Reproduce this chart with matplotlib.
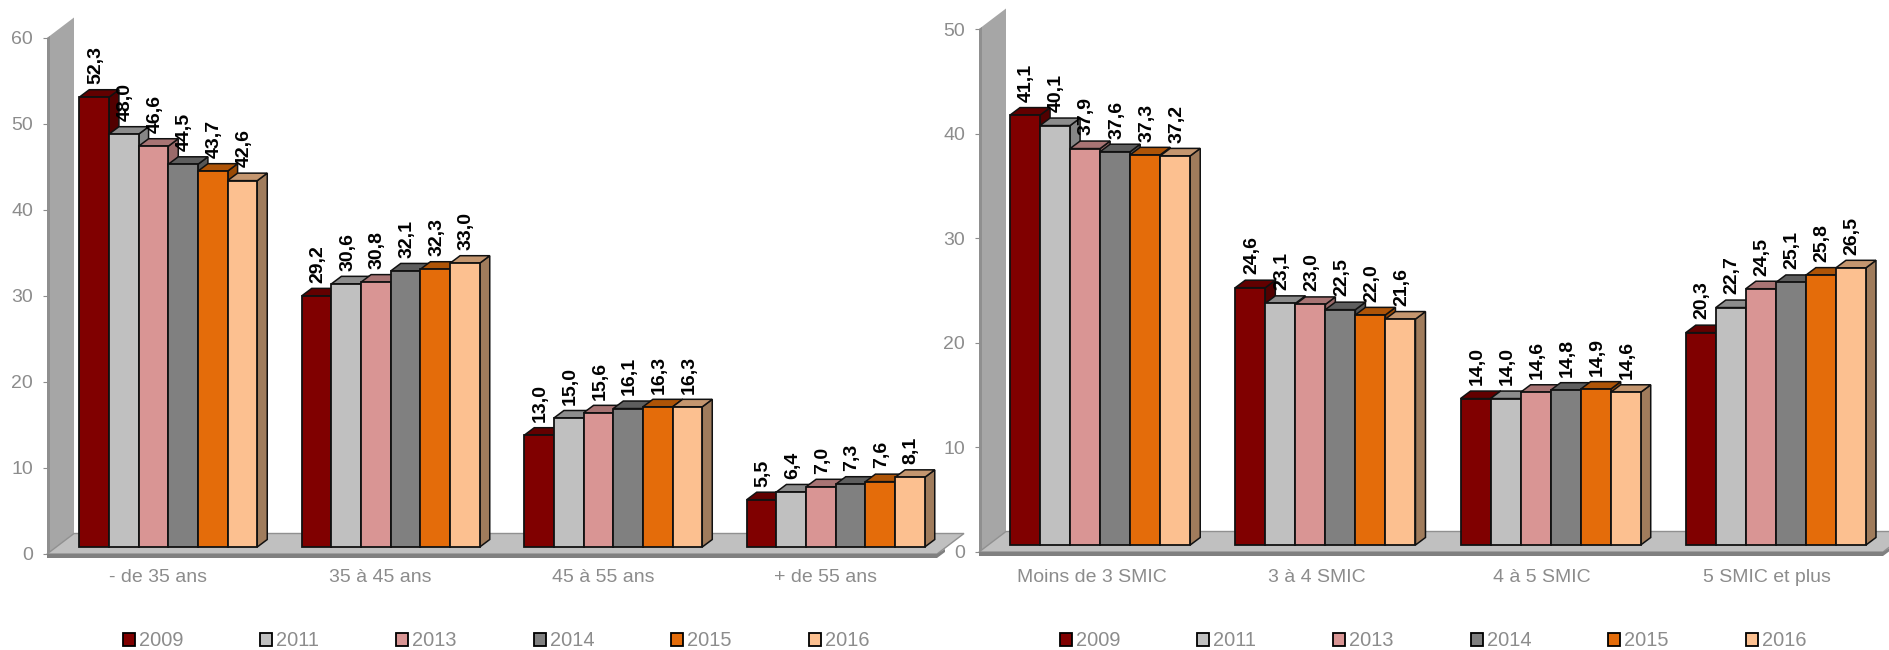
import matplotlib
matplotlib.use('Agg')
import matplotlib.pyplot as plt
from matplotlib.patches import Patch

plt.rcParams['font.family'] = ['Liberation Sans', 'DejaVu Sans']

W, H = 1890, 650
GREY_TEXT = '#8c8c8c'

years = ['2009', '2011', '2013', '2014', '2015', '2016']
face_colors = ['#800000', '#c0c0c0', '#d99594', '#808080', '#e46c0a', '#fcc090']
top_colors = ['#620000', '#8c8c8c', '#a87474', '#5e5e5e', '#ae5407', '#c4966f']
side_colors = ['#520000', '#868686', '#9a6a6a', '#575757', '#9a4a05', '#a07c5c']

age_groups = ['- de 35 ans', '35 à 45 ans', '45 à 55 ans', '+ de 55 ans']
age_2009 = [52.3, 29.2, 13.0, 5.5]
age_2011 = [48.0, 30.6, 15.0, 6.4]
age_2013 = [46.6, 30.8, 15.6, 7.0]
age_2014 = [44.5, 32.1, 16.1, 7.3]
age_2015 = [43.7, 32.3, 16.3, 7.6]
age_2016 = [42.6, 33.0, 16.3, 8.1]

wage_groups = ['Moins de 3 SMIC', '3 à 4 SMIC', '4 à 5 SMIC', '5 SMIC et plus']
wage_2009 = [41.1, 24.6, 14.0, 20.3]
wage_2011 = [40.1, 23.1, 14.0, 22.7]
wage_2013 = [37.9, 23.0, 14.6, 24.5]
wage_2014 = [37.6, 22.5, 14.8, 25.1]
wage_2015 = [37.3, 22.0, 14.9, 25.8]
wage_2016 = [37.2, 21.6, 14.6, 26.5]


def draw_chart(left, right, top, bottom, ymax, yticks, groups, series, legend_x,
               bar_shift=10, floor_extra=0, label_pad=11):
    fig_box = [left / W, 1 - bottom / H, (right - left) / W, (bottom - top) / H]
    ax = fig.add_axes(fig_box)
    ax.set_xlim(0, len(groups))
    ax.set_ylim(0, ymax)
    ax.patch.set_visible(False)
    for spine in ax.spines.values():
        spine.set_visible(False)

    # pixel sizes of the fake 3D depth, turned into data units
    ux = len(groups) / (right - left)
    uy = ymax / (bottom - top)
    wall_dx, wall_dy = 27 * ux, 20.5 * uy
    bar_dx, bar_dy = 10 * ux, 7.5 * uy
    shift_x, shift_y = bar_shift * ux, 7 * uy
    n_right = len(groups) + floor_extra * ux

    # side wall
    ax.fill([0, wall_dx, wall_dx, 0], [0, wall_dy, ymax + wall_dy, ymax],
            color='#a6a6a6', lw=0, clip_on=False, zorder=1)
    ax.fill([0, 3 * ux, 3 * ux, 0], [0, 2 * uy, ymax + 2 * uy, ymax],
            color='#8f8f8f', lw=0, clip_on=False, zorder=1)

    # floor and its front lip
    ax.fill([0, wall_dx, n_right + wall_dx, n_right], [0, wall_dy, wall_dy, 0],
            facecolor='#c0c0c0', edgecolor='#909090', lw=1, clip_on=False, zorder=2)
    ax.fill([0, n_right, n_right + 8 * ux, n_right + 8 * ux, n_right, 0],
            [0, 0, 5 * uy, 2 * uy, -4 * uy, -4 * uy],
            color='#808080', lw=0, clip_on=False, zorder=2)

    width = 0.8 / len(series)
    for k, values in enumerate(series):
        for g, v in enumerate(values):
            x0 = g + 0.1 + k * width + shift_x
            x1 = x0 + width
            y0 = shift_y
            y1 = shift_y + v
            ax.fill([x1, x1 + bar_dx, x1 + bar_dx, x1],
                    [y0, y0 + bar_dy, y1 + bar_dy, y1],
                    facecolor=side_colors[k], edgecolor='#111111', lw=1.1,
                    clip_on=False, zorder=3 + k)
            ax.fill([x0, x0 + bar_dx, x1 + bar_dx, x1],
                    [y1, y1 + bar_dy, y1 + bar_dy, y1],
                    facecolor=top_colors[k], edgecolor='#111111', lw=1.1,
                    clip_on=False, zorder=3 + k)
            ax.bar(x0, v, width, bottom=y0, align='edge', color=face_colors[k],
                   edgecolor='#111111', lw=1.3, clip_on=False, zorder=3 + k)

    # value labels go on top of every bar
    for k, values in enumerate(series):
        for g, v in enumerate(values):
            xc = g + 0.1 + (k + 0.5) * width + shift_x
            ax.annotate(f'{v:.1f}'.replace('.', ','), (xc, shift_y + v),
                        xytext=(1, 9.5), textcoords='offset points',
                        rotation=90, ha='center', va='bottom', fontsize=14,
                        fontweight='bold', color='black', zorder=20,
                        annotation_clip=False)

    ax.set_yticks(yticks)
    ax.tick_params(axis='y', length=3, width=0.8, color=GREY_TEXT, pad=7,
                   labelsize=14, labelcolor=GREY_TEXT)
    ax.set_xticks([g + 0.5 for g in range(len(groups))])
    ax.set_xticklabels(groups)
    ax.tick_params(axis='x', length=0, pad=label_pad, labelsize=14, labelcolor=GREY_TEXT)

    handles = [Patch(facecolor=c, edgecolor='black', lw=1.3, label=y)
               for c, y in zip(face_colors, years)]
    fig.legend(handles=handles, loc='center', ncol=6, frameon=False, fontsize=14.4,
               bbox_to_anchor=(legend_x / W, 1 - 641 / H), labelcolor=GREY_TEXT,
               handlelength=0.6, handleheight=0.6, handletextpad=0.2,
               columnspacing=3.85, borderpad=0, borderaxespad=0)


fig = plt.figure(figsize=(W / 100, H / 100), dpi=100, facecolor='white')

draw_chart(47, 937, 38, 554, 60, range(0, 70, 10), age_groups,
           [age_2009, age_2011, age_2013, age_2014, age_2015, age_2016], 496)
draw_chart(979, 1880, 29, 552, 50, range(0, 60, 10), wage_groups,
           [wage_2009, wage_2011, wage_2013, wage_2014, wage_2015, wage_2016], 1433,
           bar_shift=8.5, floor_extra=3, label_pad=12.5)

fig.savefig('out.png', dpi=100)
